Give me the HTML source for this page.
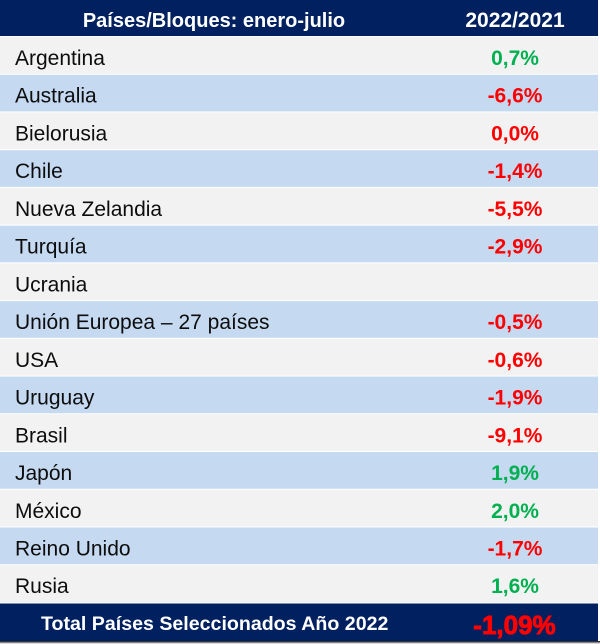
<!DOCTYPE html>
<html><head><meta charset="utf-8"><style>
html,body{margin:0;padding:0;background:#fff;}
svg{display:block;}
text{font-family:"Liberation Sans",Arial,sans-serif;}
.l{font-size:21px;fill:#0d0d0d;}
.v{font-size:21px;font-weight:700;text-anchor:middle;}
.g{fill:#00b050;}
.r{fill:#ff0000;}
.tot{font-size:26px;font-weight:700;fill:#ff0000;text-anchor:middle;stroke:#ff0000;stroke-width:0.9px;}
</style></head><body>
<svg width="600" height="644" viewBox="0 0 600 644" xmlns="http://www.w3.org/2000/svg">
<rect x="0" y="0" width="600" height="644" fill="#ffffff"/>
<rect x="0" y="0" width="598" height="36" fill="#002060"/>
<text x="214" y="27" font-size="20" font-weight="bold" fill="#fff" text-anchor="middle">Países/Bloques: enero-julio</text>
<text x="515" y="27" font-size="21" font-weight="bold" fill="#fff" text-anchor="middle">2022/2021</text>

<rect x="0" y="37" width="598" height="36.7" fill="#f2f2f2"/>
<rect x="0" y="74.73" width="598" height="36.7" fill="#c5d9f1"/>
<rect x="0" y="112.46" width="598" height="36.7" fill="#f2f2f2"/>
<rect x="0" y="150.19" width="598" height="36.7" fill="#c5d9f1"/>
<rect x="0" y="187.92" width="598" height="36.7" fill="#f2f2f2"/>
<rect x="0" y="225.65" width="598" height="36.7" fill="#c5d9f1"/>
<rect x="0" y="263.38" width="598" height="36.7" fill="#f2f2f2"/>
<rect x="0" y="301.11" width="598" height="36.7" fill="#c5d9f1"/>
<rect x="0" y="338.84" width="598" height="36.7" fill="#f2f2f2"/>
<rect x="0" y="376.57" width="598" height="36.7" fill="#c5d9f1"/>
<rect x="0" y="414.3" width="598" height="36.7" fill="#f2f2f2"/>
<rect x="0" y="452.03" width="598" height="36.7" fill="#c5d9f1"/>
<rect x="0" y="489.76" width="598" height="36.7" fill="#f2f2f2"/>
<rect x="0" y="527.49" width="598" height="36.7" fill="#c5d9f1"/>
<rect x="0" y="565.22" width="598" height="37.5" fill="#f2f2f2"/>

<text class="l" x="15" y="65">Argentina</text>
<text class="l" x="15" y="102.7">Australia</text>
<text class="l" x="15" y="140.5">Bielorusia</text>
<text class="l" x="15" y="178.2">Chile</text>
<text class="l" x="15" y="215.9">Nueva Zelandia</text>
<text class="l" x="15" y="253.7">Turquía</text>
<text class="l" x="15" y="291.4">Ucrania</text>
<text class="l" x="15" y="329.1">Unión Europea – 27 países</text>
<text class="l" x="15" y="366.8">USA</text>
<text class="l" x="15" y="404.6">Uruguay</text>
<text class="l" x="15" y="442.3">Brasil</text>
<text class="l" x="15" y="480">Japón</text>
<text class="l" x="15" y="517.8">México</text>
<text class="l" x="15" y="555.5">Reino Unido</text>
<text class="l" x="15" y="593.2">Rusia</text>

<text class="v g" x="515" y="65">0,7%</text>
<text class="v r" x="515" y="102.7">-6,6%</text>
<text class="v r" x="515" y="140.5">0,0%</text>
<text class="v r" x="515" y="178.2">-1,4%</text>
<text class="v r" x="515" y="215.9">-5,5%</text>
<text class="v r" x="515" y="253.7">-2,9%</text>
<text class="v r" x="515" y="329.1">-0,5%</text>
<text class="v r" x="515" y="366.8">-0,6%</text>
<text class="v r" x="515" y="404.6">-1,9%</text>
<text class="v r" x="515" y="442.3">-9,1%</text>
<text class="v g" x="515" y="480">1,9%</text>
<text class="v g" x="515" y="517.8">2,0%</text>
<text class="v r" x="515" y="555.5">-1,7%</text>
<text class="v g" x="515" y="593.2">1,6%</text>

<rect x="0" y="603.5" width="598" height="37.5" fill="#002060"/>
<rect x="0" y="641" width="600" height="1.5" fill="#333333"/>
<rect x="0" y="642.5" width="600" height="1.5" fill="#d9d9d9"/>
<text x="41" y="630" font-size="19.6" font-weight="bold" fill="#fff">Total Países Seleccionados Año 2022</text>
<text class="tot" x="514.5" y="634">-1,09%</text>
</svg>
</body></html>
